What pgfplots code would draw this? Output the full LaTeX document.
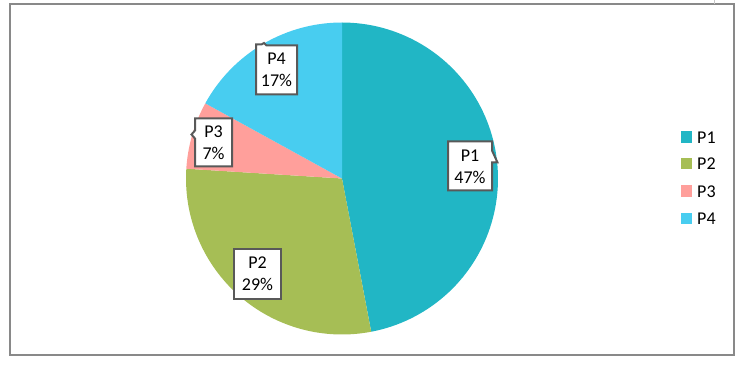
\documentclass[border=0pt]{standalone}
\usepackage{pgfplots}
\pgfplotsset{compat=1.18}
\usepackage{fontspec}
\setmainfont{Carlito}
\definecolor{cA}{HTML}{21B6C5}
\definecolor{cB}{HTML}{A6BE55}
\definecolor{cC}{HTML}{FF9F9B}
\definecolor{cD}{HTML}{48CDF0}
\definecolor{frm}{HTML}{898989}
\definecolor{lbl}{HTML}{595959}
% shares in percent
\def\pA{47}
\def\pB{29}
\def\pC{7}
\def\pD{17}
\pgfmathsetmacro\aA{90-3.6*\pA}
\pgfmathsetmacro\aB{\aA-3.6*\pB}
\pgfmathsetmacro\aC{\aB-3.6*\pC}
\pgfmathsetmacro\aD{\aC-3.6*\pD}
\def\cx{342}
\def\cy{178}
\def\rr{156}
\tikzset{lab/.style={font=\fontsize{18}{22}\selectfont, align=center, inner sep=0pt, text=black},
         leg/.style={font=\fontsize{18}{21}\selectfont, anchor=west, inner sep=0pt, text=black}}
\begin{document}
\begin{tikzpicture}
\begin{axis}[
  scale only axis, width=741pt, height=365pt,
  xmin=0, xmax=741, ymin=0, ymax=365, y dir=reverse,
  axis lines=none, clip=false,
]
\path (axis cs:0,0) rectangle (axis cs:741,365);
\draw[frm, line width=2pt] (axis cs:10,4) rectangle (axis cs:733.5,354);
\draw[black!22, line width=1pt] (axis cs:714.7,0) -- (axis cs:714.7,4);
% slices
\addplot[fill=cA, draw=none, domain=\aA:90, samples=90, variable=\t]
  ({\cx+\rr*cos(t)}, {\cy-\rr*sin(t)}) -- (axis cs:\cx,\cy) -- cycle;
\addplot[fill=cB, draw=none, domain=\aB:\aA, samples=70, variable=\t]
  ({\cx+\rr*cos(t)}, {\cy-\rr*sin(t)}) -- (axis cs:\cx,\cy) -- cycle;
\addplot[fill=cC, draw=none, domain=\aC:\aB, samples=30, variable=\t]
  ({\cx+\rr*cos(t)}, {\cy-\rr*sin(t)}) -- (axis cs:\cx,\cy) -- cycle;
\addplot[fill=cD, draw=none, domain=\aD:\aC, samples=50, variable=\t]
  ({\cx+\rr*cos(t)}, {\cy-\rr*sin(t)}) -- (axis cs:\cx,\cy) -- cycle;
% labels
\draw[lbl, fill=white, line width=2pt, line join=miter]
  (axis cs:448,141) -- (axis cs:492,141) -- (axis cs:492,150) -- (axis cs:497.5,162)
  -- (axis cs:492,162) -- (axis cs:492,190) -- (axis cs:448,190) -- cycle;
\node[lab] at (axis cs:470,166) {P1\\47\%};
\draw[lbl, fill=white, line width=2pt, line join=miter]
  (axis cs:234,249) rectangle (axis cs:281,298);
\node[lab] at (axis cs:257.5,273.5) {P2\\29\%};
\draw[lbl, fill=white, line width=2pt, line join=miter]
  (axis cs:195,118) -- (axis cs:232,118) -- (axis cs:232,166) -- (axis cs:195,166)
  -- (axis cs:195,138) -- (axis cs:191.5,134) -- (axis cs:195,130) -- cycle;
\node[lab] at (axis cs:213.5,142) {P3\\7\%};
\draw[lbl, fill=white, line width=2pt, line join=miter]
  (axis cs:256,44) -- (axis cs:261.5,44) -- (axis cs:264,42.5) -- (axis cs:266.5,45)
  -- (axis cs:297,45) -- (axis cs:297,94) -- (axis cs:256,94) -- cycle;
\node[lab] at (axis cs:276.5,69.5) {P4\\17\%};
% legend
\fill[cA] (axis cs:680.5,131) rectangle (axis cs:692,142.5);
\node[leg] at (axis cs:697,137) {P1};
\fill[cB] (axis cs:680.5,157.5) rectangle (axis cs:692,169);
\node[leg] at (axis cs:697,163.5) {P2};
\fill[cC] (axis cs:680.5,185) rectangle (axis cs:692,196.5);
\node[leg] at (axis cs:697,191) {P3};
\fill[cD] (axis cs:680.5,212.5) rectangle (axis cs:692,224);
\node[leg] at (axis cs:697,218.5) {P4};
\end{axis}
\end{tikzpicture}
\end{document}
